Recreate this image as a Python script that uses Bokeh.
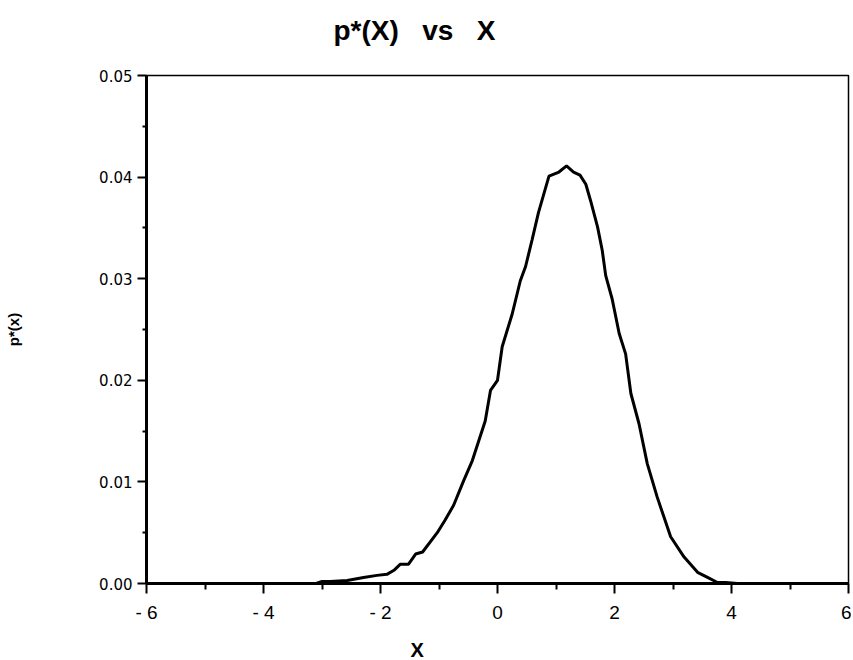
from bokeh.plotting import figure
from bokeh.models import FixedTicker, Range1d, Title
from bokeh.embed import file_html
from bokeh.resources import INLINE

# ---- data ----
x_vals = [-3.10, -3.00, -2.86, -2.57, -2.29, -2.06, -1.89, -1.77, -1.66, -1.52,
          -1.40, -1.28, -1.03, -0.90, -0.75, -0.58, -0.43, -0.21, -0.12, 0.00,
          0.08, 0.25, 0.39, 0.48, 0.59, 0.70, 0.88, 1.05, 1.18, 1.30,
          1.41, 1.51, 1.59, 1.71, 1.79, 1.85, 1.96, 2.08, 2.19, 2.28,
          2.42, 2.56, 2.73, 2.96, 3.19, 3.42, 3.59, 3.76, 3.90, 4.10]
p_vals = [0.0000, 0.0002, 0.0002, 0.0003, 0.0006, 0.0008, 0.0009, 0.0013, 0.0019, 0.0019,
          0.0029, 0.0031, 0.0050, 0.0062, 0.0077, 0.0101, 0.0121, 0.0160, 0.0190, 0.0200,
          0.0233, 0.0265, 0.0298, 0.0312, 0.0338, 0.0365, 0.0401, 0.0405, 0.0411, 0.0405,
          0.0402, 0.0393, 0.0377, 0.0351, 0.0328, 0.0303, 0.0280, 0.0246, 0.0226, 0.0187,
          0.0157, 0.0118, 0.0085, 0.0046, 0.0026, 0.0011, 0.0006, 0.0001, 0.0001, 0.0000]

x_ticks = [-6, -4, -2, 0, 2, 4, 6]
x_tick_labels = ["- 6", "- 4", "- 2", "0", "2", "4", "6"]
x_minor = [-5, -3, -1, 1, 3, 5]
y_ticks = [0.00, 0.01, 0.02, 0.03, 0.04, 0.05]
y_tick_labels = ["0.00", "0.01", "0.02", "0.03", "0.04", "0.05"]
y_minor = [0.005, 0.015, 0.025, 0.035, 0.045]

NB = "\u00a0"
title_text = "p*(X)" + NB * 3 + "vs" + NB * 3 + "X"
x_label = "X"
y_label = "p*(x)"

p = figure(width=851, height=660, output_backend="svg", toolbar_location=None,
           x_range=Range1d(-6, 6), y_range=Range1d(0, 0.05),
           min_border_left=146, min_border_right=3, min_border_top=75, min_border_bottom=77)

p.line(x_vals, p_vals, line_color="black", line_width=3)

p.xgrid.visible = False
p.ygrid.visible = False
p.outline_line_color = "black"
p.outline_line_width = 1.5
p.background_fill_color = "white"
p.border_fill_color = "white"

xa = p.xaxis[0]
xa.ticker = FixedTicker(ticks=x_ticks, minor_ticks=x_minor)
xa.major_label_overrides = {t: l for t, l in zip(x_ticks, x_tick_labels)}
xa.axis_line_width = 3
xa.major_tick_line_width = 2
xa.minor_tick_line_width = 2
xa.major_tick_out = 10
xa.major_tick_in = 0
xa.minor_tick_out = 6
xa.minor_tick_in = 0
xa.major_label_text_font = "Liberation Sans"
xa.major_label_text_font_size = "19px"
xa.major_label_text_color = "black"
xa.major_label_standoff = 8

ya = p.yaxis[0]
ya.ticker = FixedTicker(ticks=y_ticks, minor_ticks=y_minor)
ya.major_label_overrides = {t: l for t, l in zip(y_ticks, y_tick_labels)}
ya.axis_line_width = 3
ya.major_tick_line_width = 2
ya.minor_tick_line_width = 2
ya.major_tick_out = 9
ya.major_tick_in = 0
ya.minor_tick_out = 4
ya.minor_tick_in = 0
ya.major_label_text_font = "DejaVu Sans"
ya.major_label_text_font_size = "15px"
ya.major_label_text_color = "black"
ya.major_label_standoff = 5
ya.axis_label = y_label
ya.axis_label_text_font = "Liberation Sans"
ya.axis_label_text_font_style = "bold"
ya.axis_label_text_font_size = "15px"
ya.axis_label_text_color = "black"
ya.axis_label_standoff = 74

# spacer between frame and title (keeps the title high without moving the frame)
p.add_layout(Title(text=NB, text_font_size="10px", standoff=17, text_color="white"), "above")
p.add_layout(Title(text=title_text, align="left", offset=187, standoff=0,
                   text_font="Liberation Sans", text_font_size="28px",
                   text_font_style="bold", text_color="black"), "above")

# spacer between x axis and its label
p.add_layout(Title(text=NB, text_font_size="2px", standoff=7, text_color="white"), "below")
p.add_layout(Title(text=x_label, align="left", offset=264, standoff=0,
                   text_font="Liberation Sans", text_font_size="20px",
                   text_font_style="bold", text_color="black"), "below")

open("out.html", "w").write(file_html(p, INLINE))
